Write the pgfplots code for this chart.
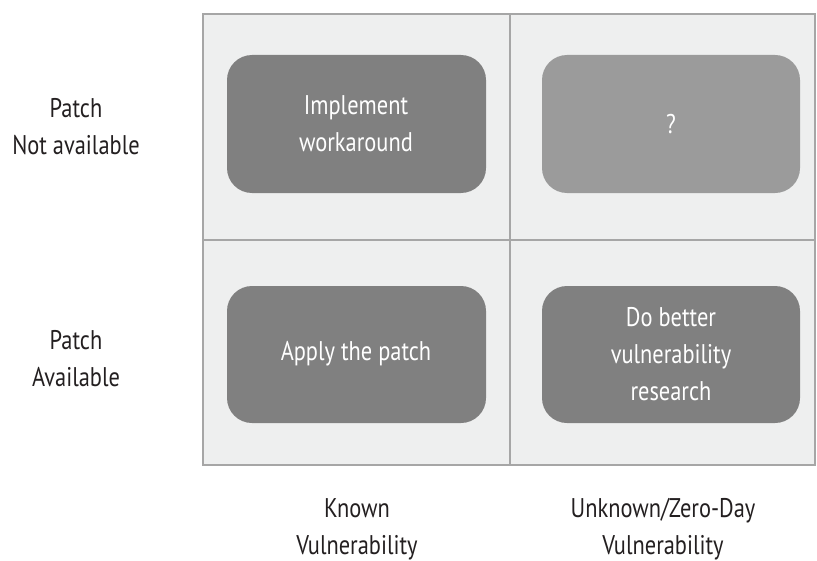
\documentclass[border=0pt]{standalone}
\usepackage{pgfplots}
\pgfplotsset{compat=1.18}
\usepackage{fontspec}
\setmainfont{PT Sans}[FakeStretch=0.83]
\definecolor{bg}{HTML}{EEEFEF}
\definecolor{bord}{HTML}{A6A6A6}
\definecolor{dark}{HTML}{808080}
\definecolor{light}{HTML}{9B9B9B}
\definecolor{txt}{HTML}{231F20}
\tikzset{lbl/.style={font=\fontsize{27bp}{37bp}\selectfont, align=center, inner sep=0pt}}
\begin{document}
\begin{tikzpicture}
\begin{axis}[
  width=817bp, height=561bp, scale only axis,
  xmin=0, xmax=817, ymin=0, ymax=561, y dir=reverse,
  hide axis, clip=false,
]
\addplot[draw=none] coordinates {(0,0) (817,561)};
% background panel
\addplot[fill=bg, draw=none] coordinates {(203,14) (815,14) (815,465) (203,465)} -- cycle;
% boxes
\addplot[fill=dark, draw=none, rounded corners=25bp] coordinates {(227,55) (486,55) (486,193) (227,193)} -- cycle;
\addplot[fill=light, draw=none, rounded corners=25bp] coordinates {(542,55) (800,55) (800,193) (542,193)} -- cycle;
\addplot[fill=dark, draw=none, rounded corners=25bp] coordinates {(227,286) (486,286) (486,423) (227,423)} -- cycle;
\addplot[fill=dark, draw=none, rounded corners=25bp] coordinates {(542,286) (800,286) (800,423) (542,423)} -- cycle;
% grid lines
\addplot[draw=bord, line width=2bp] coordinates {(203,14) (815,14) (815,465) (203,465)} -- cycle;
\addplot[draw=bord, line width=2bp] coordinates {(510,14) (510,465)};
\addplot[draw=bord, line width=2bp] coordinates {(203,240) (815,240)};
% box texts
\node[lbl, white] at (axis cs:356,124) {Implement\\workaround};
\node[lbl, white] at (axis cs:671,124) {?};
\node[lbl, white] at (axis cs:356,354) {Apply the patch};
\node[lbl, white] at (axis cs:671,354) {Do better\\vulnerability\\research};
% row labels
\node[lbl, txt] at (axis cs:76,127) {Patch\\Not available};
\node[lbl, txt] at (axis cs:76,359) {Patch\\Available};
% column labels
\node[lbl, txt] at (axis cs:357,529) {Known\\Vulnerability};
\node[lbl, txt] at (axis cs:663,529) {Unknown/Zero-Day\\Vulnerability};
\end{axis}
\end{tikzpicture}
\end{document}
